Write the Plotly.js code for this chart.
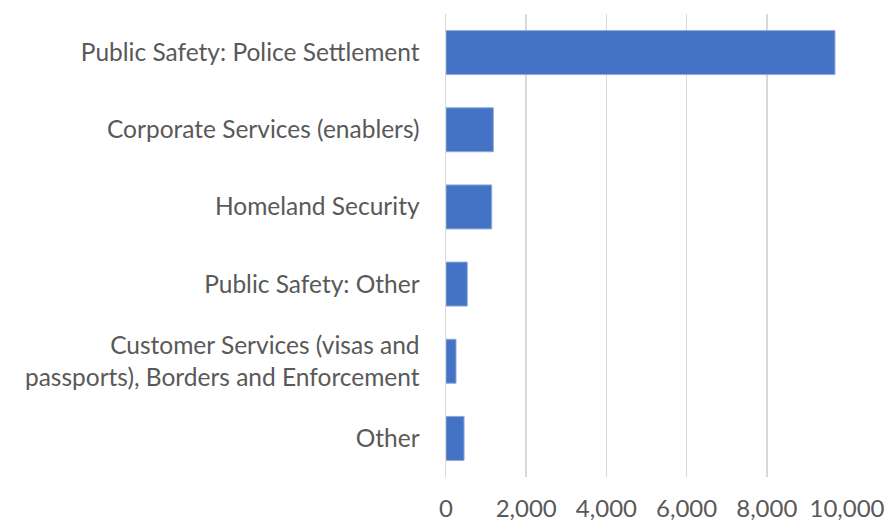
<!DOCTYPE html>
<html>
<head>
<meta charset="utf-8">
<script src="https://cdn.plot.ly/plotly-3.0.1.min.js"></script>
<style>html,body{margin:0;padding:0;background:#fff;}#chart{width:887px;height:523px;}</style>
</head>
<body>
<div id="chart"></div>
<script>
const categories = [
  "Public Safety: Police Settlement",
  "Corporate Services (enablers)",
  "Homeland Security",
  "Public Safety: Other",
  "Customer Services (visas and<br>passports), Borders and Enforcement",
  "Other"
];
const values = [9700, 1180, 1140, 530, 250, 450];
const tickVals = [0, 2000, 4000, 6000, 8000, 10000];
const tickText = ["0", "2,000", "4,000", "6,000", "8,000", "10,000"];

const trace = {
  type: "bar",
  orientation: "h",
  y: categories,
  x: values,
  width: 0.57,
  marker: {color: "#4472C4", line: {color: "#8FAADC", width: 1}},
  hoverinfo: "x+y"
};

const layout = {
  width: 887,
  height: 523,
  margin: {l: 446, r: 40, t: 14, b: 46, pad: 0},
  paper_bgcolor: "#ffffff",
  plot_bgcolor: "#ffffff",
  font: {family: "Lato, 'Open Sans', sans-serif", color: "#595959", size: 24},
  showlegend: false,
  xaxis: {
    range: [0, 10000],
    tickvals: tickVals,
    ticktext: tickText,
    showgrid: true,
    gridcolor: "#d9d9d9",
    gridwidth: 1.5,
    zeroline: false,
    showline: false,
    ticks: "",
    ticklabelstandoff: 15,
    tickfont: {size: 24, color: "#595959"},
    fixedrange: true
  },
  yaxis: {
    autorange: "reversed",
    showgrid: false,
    zeroline: false,
    showline: true,
    linecolor: "#d9d9d9",
    linewidth: 1.5,
    ticks: "",
    ticklabelstandoff: 20,
    tickfont: {size: 24.5, color: "#595959"},
    fixedrange: true
  }
};

Plotly.newPlot("chart", [trace], layout, {displayModeBar: false, staticPlot: true});
</script>
</body>
</html>
